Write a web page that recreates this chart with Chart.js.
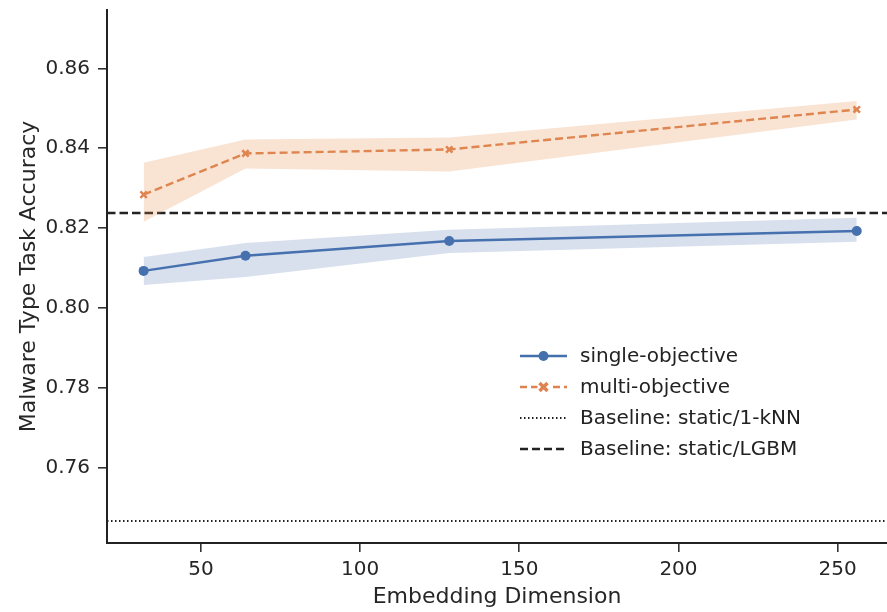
<!DOCTYPE html>
<html>
<head>
<meta charset="utf-8">
<script src="https://cdn.jsdelivr.net/npm/chart.js@4.4.0/dist/chart.umd.min.js"></script>
<style>
  html, body { margin: 0; padding: 0; background: #fff; }
  #wrap { width: 887px; height: 612px; }
</style>
</head>
<body>
<div id="wrap"><canvas id="chart" width="887" height="612"></canvas></div>
<script>
// data
const dims = [32, 64, 128, 256];
const singleMean = [0.8093, 0.8131, 0.8168, 0.8193];
const singleLow = [0.8058, 0.8078, 0.8138, 0.8166];
const singleHigh = [0.8128, 0.8163, 0.8196, 0.8226];
const multiMean = [0.8284, 0.8387, 0.8397, 0.8497];
const multiLow = [0.8216, 0.8349, 0.8342, 0.8472];
const multiHigh = [0.8364, 0.8422, 0.8427, 0.8518];
const knnBaseline = 0.7467;
const lgbmBaseline = 0.8238;
const xTicks = [50, 100, 150, 200, 250];
const yTicks = [0.76, 0.78, 0.80, 0.82, 0.84, 0.86];

const xMin = 20.5, xMax = 265.5;
const yMin = 0.7412, yMax = 0.8746;

const blue = '#4470ad';
const orange = '#dd8452';
const FONT = "'DejaVu Sans', sans-serif";

const pts = (ys) => dims.map((d, i) => ({x: d, y: ys[i]}));
const flat = (y) => [{x: xMin, y: y}, {x: xMax, y: y}];

const band = (ys, color, fill) => ({
  data: pts(ys),
  borderWidth: 0,
  pointRadius: 0,
  backgroundColor: color,
  fill: fill,
  tension: 0
});

const datasets = [
  band(singleHigh, 'rgba(76,114,176,0.22)', '+1'),
  band(singleLow, 'rgba(0,0,0,0)', false),
  band(multiHigh, 'rgba(232,140,70,0.24)', '+1'),
  band(multiLow, 'rgba(0,0,0,0)', false),
  {
    label: 'Baseline: static/1-kNN',
    data: flat(knnBaseline),
    borderColor: '#222',
    borderWidth: 2,
    borderDash: [1.5, 2.5],
    pointRadius: 0,
    fill: false
  },
  {
    label: 'Baseline: static/LGBM',
    data: flat(lgbmBaseline),
    borderColor: '#222',
    borderWidth: 2.5,
    borderDash: [8.5, 4],
    pointRadius: 0,
    fill: false
  },
  {
    label: 'single-objective',
    data: pts(singleMean),
    borderColor: blue,
    backgroundColor: blue,
    borderWidth: 2.4,
    pointStyle: 'circle',
    pointRadius: 5,
    pointBorderWidth: 0,
    fill: false
  },
  {
    label: 'multi-objective',
    data: pts(multiMean),
    borderColor: orange,
    backgroundColor: orange,
    borderWidth: 2.4,
    borderDash: [8, 4],
    pointStyle: 'crossRot',
    pointRadius: 4.5,
    pointBorderWidth: 2.5,
    fill: false
  }
];

// matplotlib-like legend drawn on the canvas
const legendPlugin = {
  id: 'mplLegend',
  afterDraw(chart) {
    const ctx = chart.ctx;
    const entries = [
      {label: 'single-objective', color: blue, width: 2.4, dash: [], marker: 'circle'},
      {label: 'multi-objective', color: orange, width: 2.5, dash: [7, 4], marker: 'x'},
      {label: 'Baseline: static/1-kNN', color: '#222', width: 2, dash: [1.5, 2.5]},
      {label: 'Baseline: static/LGBM', color: '#222', width: 2.5, dash: [8, 4]}
    ];
    const x0 = 520, x1 = 567, tx = 580;
    let y = 356;
    ctx.save();
    ctx.font = '20px ' + FONT;
    ctx.textBaseline = 'middle';
    entries.forEach(e => {
      ctx.strokeStyle = e.color;
      ctx.lineWidth = e.width;
      ctx.setLineDash(e.dash);
      ctx.beginPath();
      ctx.moveTo(x0, y);
      ctx.lineTo(x1, y);
      ctx.stroke();
      ctx.setLineDash([]);
      const mx = (x0 + x1) / 2;
      if (e.marker === 'circle') {
        ctx.fillStyle = e.color;
        ctx.beginPath();
        ctx.arc(mx, y, 5, 0, Math.PI * 2);
        ctx.fill();
      } else if (e.marker === 'x') {
        ctx.fillStyle = '#fff';
        ctx.fillRect(mx - 6, y - 6, 12, 12);
        ctx.lineWidth = 3.5;
        ctx.beginPath();
        ctx.moveTo(mx - 4, y - 4); ctx.lineTo(mx + 4, y + 4);
        ctx.moveTo(mx + 4, y - 4); ctx.lineTo(mx - 4, y + 4);
        ctx.stroke();
      }
      ctx.fillStyle = '#222';
      ctx.fillText(e.label, tx, y + 1);
      y += 31;
    });
    ctx.restore();
  }
};

new Chart(document.getElementById('chart'), {
  type: 'line',
  data: {datasets: datasets},
  plugins: [legendPlugin],
  options: {
    responsive: false,
    animation: false,
    layout: {autoPadding: false, padding: {top: 10, right: 0, left: 0, bottom: 0}},
    plugins: {
      legend: {display: false},
      tooltip: {enabled: false},
      filler: {propagate: false}
    },
    scales: {
      x: {
        type: 'linear',
        min: xMin,
        max: xMax,
        afterBuildTicks: (s) => { s.ticks = xTicks.map(v => ({value: v})); },
        afterFit: (s) => { s.height = 69; s.paddingRight = 0; s.paddingLeft = 0; },
        ticks: {color: '#262626', font: {family: FONT, size: 20}, padding: 6},
        grid: {drawOnChartArea: false, drawTicks: true, tickLength: 9, color: '#333', lineWidth: 1.6},
        border: {display: true, color: '#222', width: 2},
        title: {display: true, text: 'Embedding Dimension', color: '#262626',
          font: {family: FONT, size: 22}, padding: {top: 0, bottom: 2}}
      },
      y: {
        min: yMin,
        max: yMax,
        afterBuildTicks: (s) => { s.ticks = yTicks.map(v => ({value: v})); },
        afterFit: (s) => { s.width = 107; s.paddingTop = 0; s.paddingBottom = 0; },
        ticks: {color: '#262626', font: {family: FONT, size: 20}, padding: 8,
          callback: (v) => v.toFixed(2)},
        grid: {drawOnChartArea: false, drawTicks: true, tickLength: 9, color: '#333', lineWidth: 1.6},
        border: {display: true, color: '#222', width: 2},
        title: {display: true, text: 'Malware Type Task Accuracy', color: '#262626',
          font: {family: FONT, size: 22}, padding: {top: 16, bottom: 0}}
      }
    }
  }
});
</script>
</body>
</html>
